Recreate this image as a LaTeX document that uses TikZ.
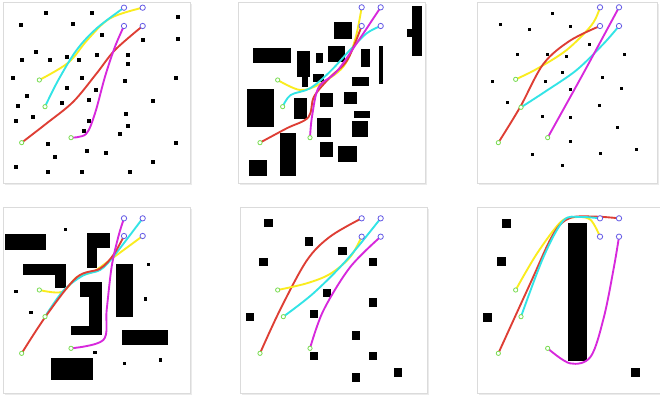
\documentclass[tikz,border=0pt]{standalone}
\usepackage{xcolor}

\definecolor{trajyellow}{RGB}{250,236,30}
\definecolor{trajcyan}{RGB}{50,228,230}
\definecolor{trajred}{RGB}{222,62,52}
\definecolor{trajmagenta}{RGB}{215,40,220}
\definecolor{goalblue}{RGB}{100,90,230}
\definecolor{startgreen}{RGB}{120,220,80}

\tikzset{
  panelframe/.style={draw=black!14, line width=0.6pt, fill=white},
  panelshadow/.style={fill=black!8},
  trajpath/.style={line width=1.4pt, line cap=round, line join=round},
  goalring/.style={draw=goalblue, line width=0.6pt, fill=white},
  startring/.style={draw=startgreen, line width=0.6pt, fill=white}
}

% square obstacles of half size #1 centred at the listed points
\newcommand{\obsdots}[2]{%
  \foreach \px/\py in {#2} {\fill (\px-#1,\py-#1) rectangle (\px+#1,\py+#1);}}
% block obstacles given by two corners
\newcommand{\obsblocks}[1]{%
  \foreach \ax/\ay/\bx/\by in {#1} {\fill (\ax,\ay) rectangle (\bx,\by);}}
% one trajectory: colour, points
\newcommand{\trajline}[2]{%
  \draw[trajpath, #1] plot[smooth, tension=0.55] coordinates {#2};}
% start and goal markers
\newcommand{\markers}[2]{%
  \foreach \qx/\qy in {#1} {\draw[startring] (\qx,\qy) circle (1.6pt);}
  \foreach \qx/\qy in {#2} {\draw[goalring] (\qx,\qy) circle (2pt);}}
\newcommand{\panelbox}[4]{%
  \fill[panelshadow] (#1+6,#2+6) rectangle (#3+6,#4+6);
  \draw[panelframe] (#1,#2) rectangle (#3,#4);}

\begin{document}
\begin{tikzpicture}[x=0.25pt, y=-0.25pt]
  \useasboundingbox (0,0) rectangle (1980,1206);

  % panel 1: many small obstacles
  \begin{scope}
    \panelbox{9}{6}{570}{549}
    \obsdots{6}{137/38, 275/38, 533/52, 62/76, 219/72, 305/106, 430/120, 533/116,
      107/157, 67/180, 150/180, 200/170, 238/180, 291/165, 383/165, 383/193,
      40/235, 247/235, 374/242, 527/235, 200/265, 289/270, 80/287, 266/300,
      186/308, 458/303, 53/318, 100/350, 47/363, 266/363, 377/342, 383/378,
      252/392, 361/403, 145/433, 260/453, 319/458, 527/428, 164/471, 458/486,
      47/501, 145/516, 247/516, 389/516}
    \trajline{trajyellow}{(118,240) (205,188) (262,120) (330,55) (428,23)}
    \trajline{trajred}{(65,428) (140,370) (220,305) (290,220) (345,150) (428,78)}
    \trajline{trajcyan}{(135,320) (175,240) (230,150) (290,85) (372,23)}
    \trajline{trajmagenta}{(213,413) (258,402) (285,340) (315,230) (345,140) (372,78)}
    \markers{118/240, 135/320, 65/428, 213/413}{372/23, 428/23, 372/78, 428/78}
  \end{scope}

  % panel 2: blocks
  \begin{scope}[xshift=172.5pt]
    \panelbox{24}{6}{585}{549}
    \obsblocks{70/145/183/190, 200/153/240/230, 215/228/235/262, 258/158/280/190,
      293/138/345/185, 312/65/365/118, 393/148/420/200, 448/138/458/253,
      545/18/575/168, 530/88/546/110, 250/222/282/245, 367/230/418/257,
      50/268/132/380, 192/295/232/357, 270/280/310/322, 342/275/380/313,
      373/333/420/355, 262/353/302/410, 367/363/415/410, 150/400/197/528,
      270/425/308/470, 325/437/380/485, 57/480/110/528}
    \trajline{trajyellow}{(143,240) (210,270) (270,252) (340,200) (375,120) (395,22)}
    \trajline{trajcyan}{(158,320) (182,285) (240,265) (300,215) (360,150) (410,100) (452,78)}
    \trajline{trajred}{(90,428) (170,385) (235,352) (252,290) (300,232) (352,180) (395,78)}
    \trajline{trajmagenta}{(240,413) (246,350) (266,262) (320,215) (380,130) (452,22)}
    \markers{143/240, 158/320, 90/428, 240/413}{395/22, 452/22, 395/78, 452/78}
  \end{scope}

  % panel 3: sparse points
  \begin{scope}[xshift=352.5pt]
    \panelbox{21}{6}{561}{549}
    \obsdots{4.5}{247/42, 92/75, 178/90, 300/80, 358/133, 142/163, 233/163, 288/170,
      463/163, 277/218, 67/245, 225/245, 397/233, 300/268, 455/267, 112/307,
      388/316, 217/350, 300/354, 442/384, 302/426, 187/464, 390/460, 500/448,
      278/497}
    \trajline{trajyellow}{(137,238) (200,207) (290,150) (365,75) (390,22)}
    \trajline{trajred}{(85,428) (150,322) (220,192) (300,122) (390,78)}
    \trajline{trajcyan}{(153,322) (230,272) (320,210) (400,132) (447,78)}
    \trajline{trajmagenta}{(233,413) (340,220) (447,22)}
    \markers{137/238, 153/322, 85/428, 233/413}{390/22, 447/22, 390/78, 447/78}
  \end{scope}

  % panel 4: walls
  \begin{scope}[yshift=-150pt]
    \panelbox{9}{21}{570}{579}
    \obsblocks{15/103/138/150, 262/98/330/145, 262/98/290/205, 70/193/198/225,
      165/193/198/265, 348/193/400/350, 240/245/305/290, 268/245/305/405,
      212/378/305/405, 365/390/505/435, 152/473/278/540}
    \obsdots{5}{197/88, 445/193, 48/275, 436/297, 93/338, 285/457, 373/490, 481/480}
    \trajline{trajyellow}{(118,270) (185,276) (230,232) (280,215) (330,180) (428,108)}
    \trajline{trajcyan}{(135,350) (190,272) (250,226) (300,210) (340,170) (428,55)}
    \trajline{trajred}{(65,460) (140,345) (230,232) (300,206) (340,165) (372,108)}
    \trajline{trajmagenta}{(213,445) (310,420) (320,330) (335,200) (355,110) (372,55)}
    \markers{118/270, 135/350, 65/460, 213/445}{372/55, 428/55, 372/108, 428/108}
  \end{scope}

  % panel 5: larger squares
  \begin{scope}[xshift=172.5pt, yshift=-150pt]
    \panelbox{30}{21}{591}{579}
    \obsdots{12.5}{115/70, 237/125, 337/153, 100/186, 428/186, 290/280, 428/308,
      60/352, 251/343, 378/407, 251/468, 428/468, 503/518, 378/532}
    \trajline{trajred}{(90,460) (150,330) (230,182) (300,110) (395,55)}
    \trajline{trajyellow}{(143,270) (230,250) (300,222) (360,172) (395,110)}
    \trajline{trajcyan}{(160,350) (250,280) (350,180) (452,55)}
    \trajline{trajmagenta}{(240,445) (280,332) (360,202) (452,110)}
    \markers{143/270, 160/350, 90/460, 240/445}{395/55, 452/55, 395/110, 452/110}
  \end{scope}

  % panel 6: one long bar
  \begin{scope}[xshift=352.5pt, yshift=-150pt]
    \panelbox{21}{21}{570}{579}
    \obsblocks{295/68/350/482}
    \obsdots{13.5}{108/70, 95/186, 53/352, 497/518}
    \trajline{trajyellow}{(137,270) (200,162) (270,68) (310,52) (360,58) (390,110)}
    \trajline{trajred}{(85,460) (180,252) (250,102) (300,54) (380,50) (447,55)}
    \trajline{trajcyan}{(153,350) (220,172) (280,62) (330,51) (390,55)}
    \trajline{trajmagenta}{(233,445) (300,490) (362,470) (402,350) (432,200) (447,110)}
    \markers{137/270, 153/350, 85/460, 233/445}{390/55, 447/55, 390/110, 447/110}
  \end{scope}
\end{tikzpicture}
\end{document}
